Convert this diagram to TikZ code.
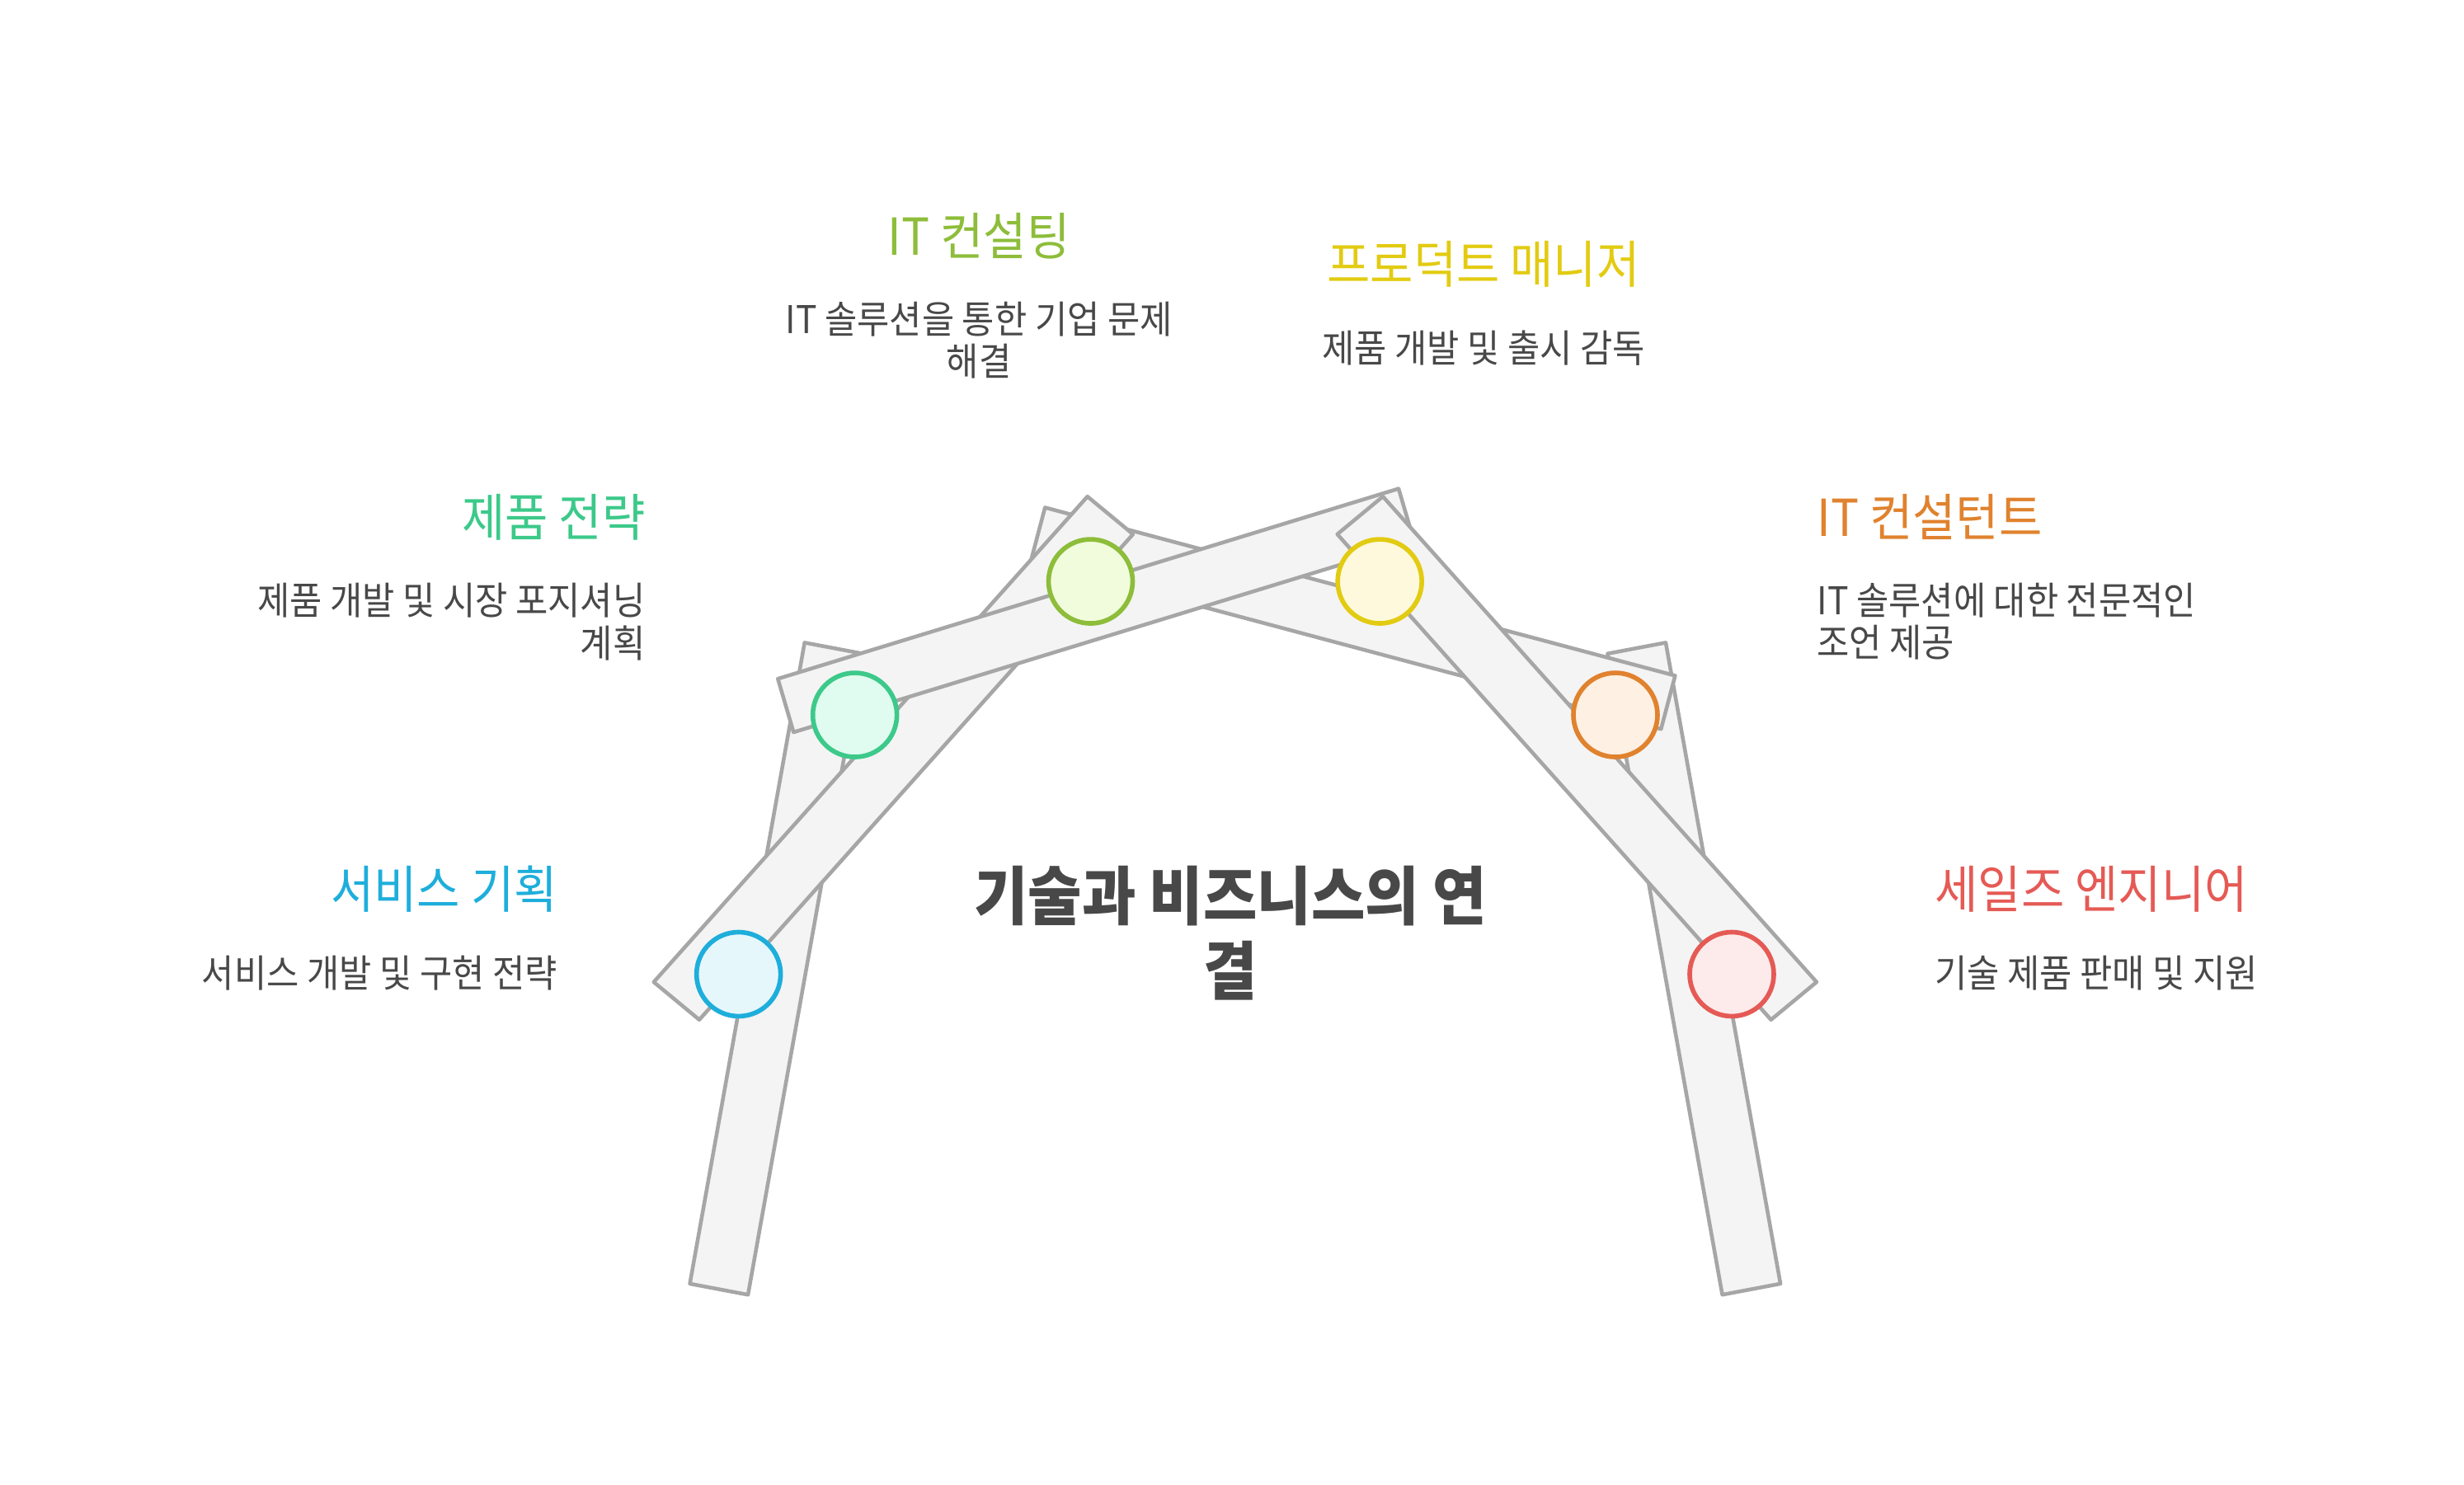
\documentclass[tikz,border=0pt]{standalone}
\usepackage{fontspec}
\setmainfont{Noto Sans CJK KR}[FakeStretch=0.92]
\usetikzlibrary{positioning}
\definecolor{barfill}{HTML}{F4F4F4}
\definecolor{barline}{HTML}{A6A6A6}
\definecolor{ink}{HTML}{484848}
\definecolor{svcblue}{HTML}{1EAEDB}
\definecolor{svcbluebg}{HTML}{E6F7FC}
\definecolor{prodgreen}{HTML}{3CC98A}
\definecolor{prodgreenbg}{HTML}{E0FBEF}
\definecolor{itlime}{HTML}{8DBD3A}
\definecolor{itlimebg}{HTML}{F1FCDD}
\definecolor{pmyellow}{HTML}{E2CB12}
\definecolor{pmyellowbg}{HTML}{FEF9DC}
\definecolor{conorange}{HTML}{E0822E}
\definecolor{conorangebg}{HTML}{FEF0E3}
\definecolor{salesred}{HTML}{E55A55}
\definecolor{salesredbg}{HTML}{FDEBEB}

\begin{document}
\begin{tikzpicture}[
  x=0.019056cm, y=-0.019056cm,
  bar/.style={draw=barline, fill=barfill, line width=1.3pt, line join=round},
  dot/.style={circle, line width=1.6pt, minimum size=1.02cm, inner sep=0pt},
  head/.style={inner sep=0pt, font=\fontsize{17.6}{21}\selectfont},
  desc/.style={inner sep=0pt, text=ink, font=\fontsize{13.2}{14.6}\selectfont},
  node distance=5.1mm]
\useasboundingbox (0,0) rectangle (1568,945);
% bars, back to front
\draw[bar] (439,817) -- (476,824) -- (549,416) -- (512,409) -- cycle;
\draw[bar] (1133,817) -- (1096,824) -- (1023,416) -- (1060,409) -- cycle;
\draw[bar] (665,323) -- (1066,430) -- (1057,464) -- (656,357) -- cycle;
\draw[bar] (416,625) -- (445,649) -- (721,340) -- (692,316) -- cycle;
\draw[bar] (495,432) -- (505,466) -- (900,345) -- (890,311) -- cycle;
\draw[bar] (1156,625) -- (1127,649) -- (851,340) -- (880,316) -- cycle;
% joints
\node[dot, draw=svcblue, fill=svcbluebg] (d1) at (470,620) {};
\node[dot, draw=prodgreen, fill=prodgreenbg] (d2) at (544,455) {};
\node[dot, draw=itlime, fill=itlimebg] (d3) at (694,370) {};
\node[dot, draw=pmyellow, fill=pmyellowbg] (d4) at (878,370) {};
\node[dot, draw=conorange, fill=conorangebg] (d5) at (1028,455) {};
\node[dot, draw=salesred, fill=salesredbg] (d6) at (1102,620) {};
% center title
\node[inner sep=0pt, text=ink, align=center, font=\fontsize{22}{26}\selectfont\bfseries] (main) at (783,594) {기술과 비즈니스의 연\\결};
% labels
\node[head, text=svcblue, anchor=east] (t1) at (355,566) {서비스 기획};
\node[desc, align=right, below left=5.1mm and 0mm of t1.south east] (s1) {서비스 개발 및 구현 전략};
\node[head, text=prodgreen, anchor=east] (t2) at (411,329) {제품 전략};
\node[desc, align=right, below left=5.1mm and 0mm of t2.south east] (s2) {제품 개발 및 시장 포지셔닝\\계획};
\node[head, text=itlime] (t3) at (623,150) {IT 컨설팅};
\node[desc, align=center, below=of t3] (s3) {IT 솔루션을 통한 기업 문제\\해결};
\node[head, text=pmyellow] (t4) at (944,168) {프로덕트 매니저};
\node[desc, align=center, below=of t4] (s4) {제품 개발 및 출시 감독};
\node[head, text=conorange, anchor=west] (t5) at (1156,329) {IT 컨설턴트};
\node[desc, align=left, below right=5.1mm and 0mm of t5.south west] (s5) {IT 솔루션에 대한 전문적인\\조언 제공};
\node[head, text=salesred, anchor=west] (t6) at (1231,566) {세일즈 엔지니어};
\node[desc, align=left, below right=5.1mm and 0mm of t6.south west] (s6) {기술 제품 판매 및 지원};
\end{tikzpicture}
\end{document}
